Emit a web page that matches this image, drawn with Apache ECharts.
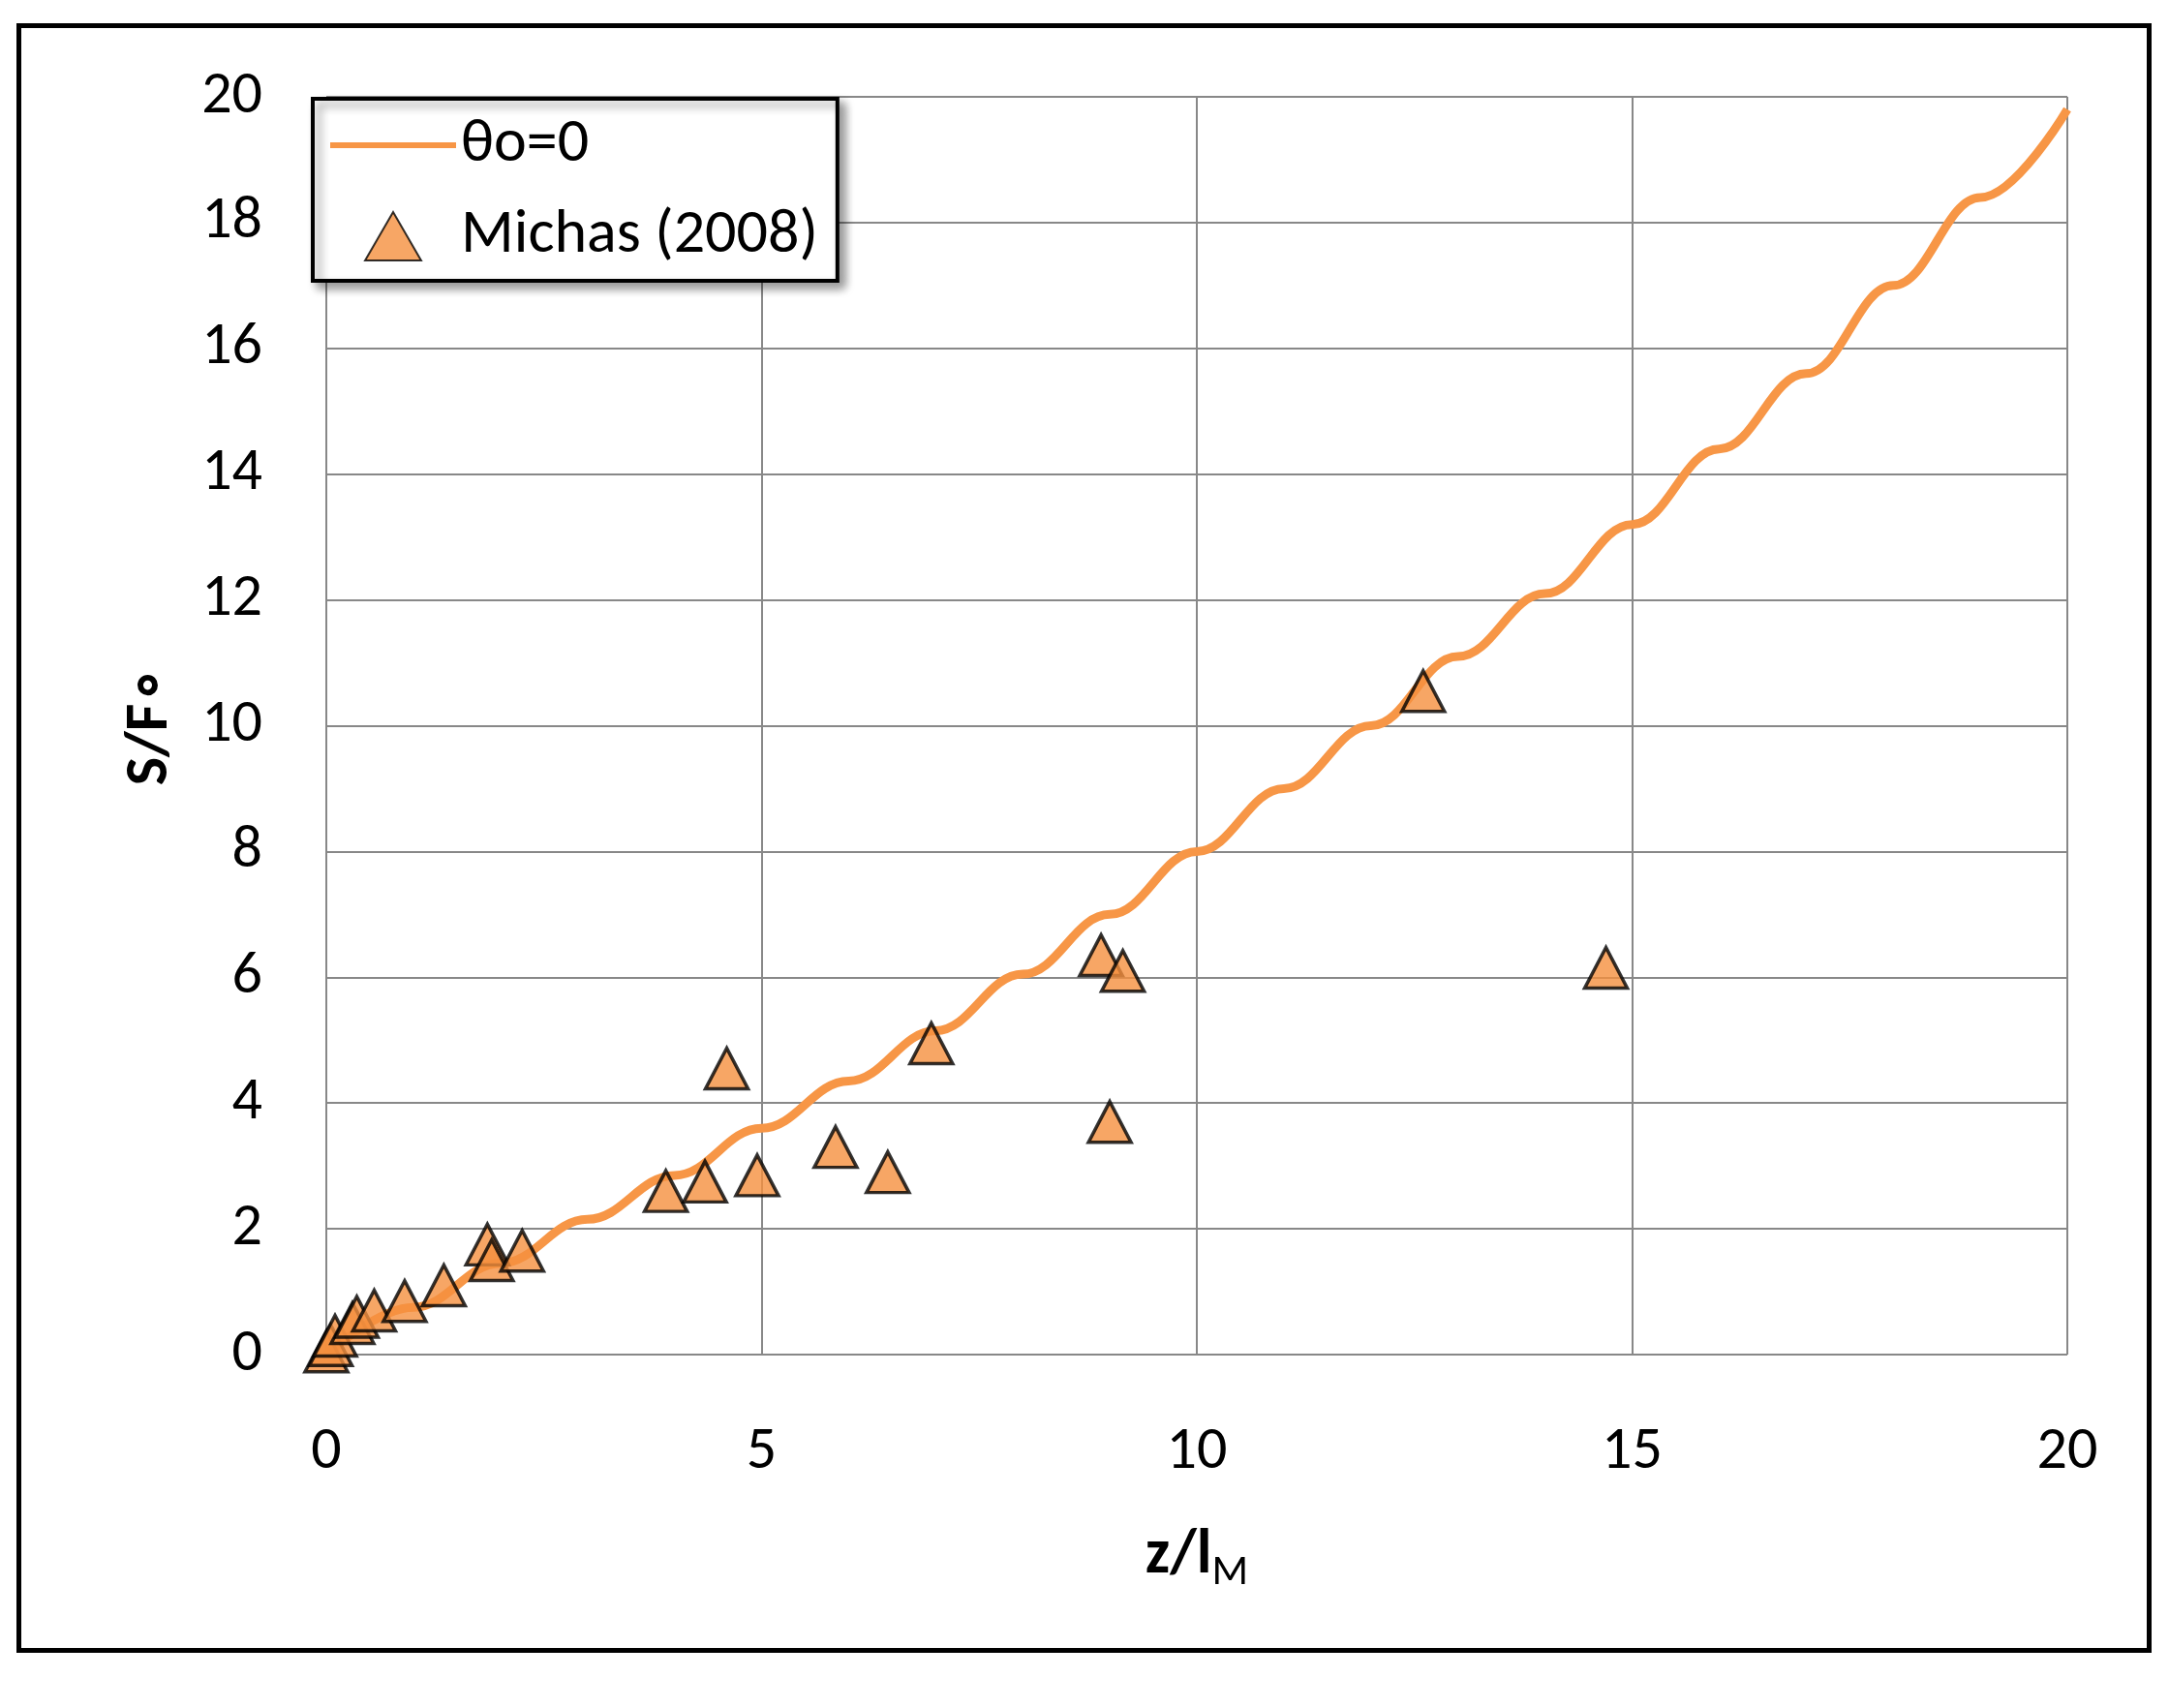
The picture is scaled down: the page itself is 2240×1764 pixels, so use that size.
<!DOCTYPE html><html><head><meta charset="utf-8"><script src="https://cdn.jsdelivr.net/npm/echarts@6/dist/echarts.min.js"></script>
<style>html,body{margin:0;background:#fff}#c{width:2240px;height:1764px}
#f{position:absolute;left:17px;top:24px;width:2195px;height:1673px;border:5px solid #000;pointer-events:none}</style></head><body><div id="c"></div><div id="f"></div>
<script>
const curveX=[0,1,2,3,4,5,6,7,8,9,10,11,12,13,14,15,16,17,18,19,20];
const curveY=[0,0.75,1.45,2.15,2.85,3.6,4.35,5.15,6.05,7.0,8.0,9.0,10.0,11.1,12.1,13.2,14.4,15.6,17.0,18.4,19.8];
const ptX=[0,0.05,0.1,0.3,0.35,0.55,0.9,1.35,1.85,1.9,2.25,3.9,4.35,4.6,4.95,5.85,6.45,6.95,8.9,9.15,9.0,12.6,14.7];
const ptY=[0.05,0.15,0.3,0.5,0.6,0.7,0.85,1.1,1.75,1.5,1.65,2.6,2.75,4.55,2.85,3.3,2.9,4.95,6.35,6.1,3.7,10.55,6.15];
const c=echarts.init(document.getElementById('c'));
const ff='Carlito, "Liberation Sans", "Open Sans", sans-serif';
c.setOption({
 animation:false,
 grid:{left:337,right:105,top:100,bottom:365},
 xAxis:{type:'value',min:0,max:20,interval:5,nameLocation:'middle',nameGap:170,
  name:'{a|z/l}{b|M}',nameTextStyle:{color:'#000',rich:{a:{fontSize:64,fontWeight:'bold',fontFamily:ff,color:'#000'},b:{fontSize:44,fontFamily:ff,color:'#000',padding:[34,0,0,0]}}},
  axisLine:{show:false},axisTick:{show:false},axisLabel:{fontSize:62,color:'#000',fontFamily:ff,margin:70},
  splitLine:{lineStyle:{color:'#888',width:2}}},
 yAxis:{type:'value',min:0,max:20,interval:2,name:'S/F∘',nameLocation:'middle',nameGap:150,
  nameTextStyle:{fontSize:62,fontWeight:'bold',fontFamily:ff,color:'#000'},
  axisLine:{show:false},axisTick:{show:false},axisLabel:{fontSize:62,color:'#000',fontFamily:ff,margin:66},
  splitLine:{lineStyle:{color:'#888',width:2}}},
 legend:{left:323,top:102,orient:'vertical',backgroundColor:'#fff',borderColor:'#000',borderWidth:4,
  padding:[16,20,14,18],itemGap:30,itemWidth:130,itemHeight:50,
  shadowColor:'rgba(0,0,0,0.4)',shadowBlur:10,shadowOffsetX:6,shadowOffsetY:6,
  textStyle:{fontSize:64,fontFamily:ff,color:'#000'},
  data:[{name:'θo=0',icon:'path://M0,22 L130,22 L130,28 L0,28 Z'},
        {name:'Michas (2008)',icon:'path://M65,8 L87,46 L43,46 Z'}]},
 series:[
  {name:'θo=0',type:'line',data:curveX.map((x,i)=>[x,curveY[i]]),smooth:0.4,smoothMonotone:'x',symbol:'none',
   lineStyle:{color:'#F79646',width:9},itemStyle:{color:'#F79646'},z:2},
  {name:'Michas (2008)',type:'scatter',data:ptX.map((x,i)=>[x,ptY[i]]),symbol:'triangle',symbolSize:[44,42],
   itemStyle:{color:'#F5903F',borderColor:'#000',borderWidth:3.5},z:3}
 ]
});
</script></body></html>
